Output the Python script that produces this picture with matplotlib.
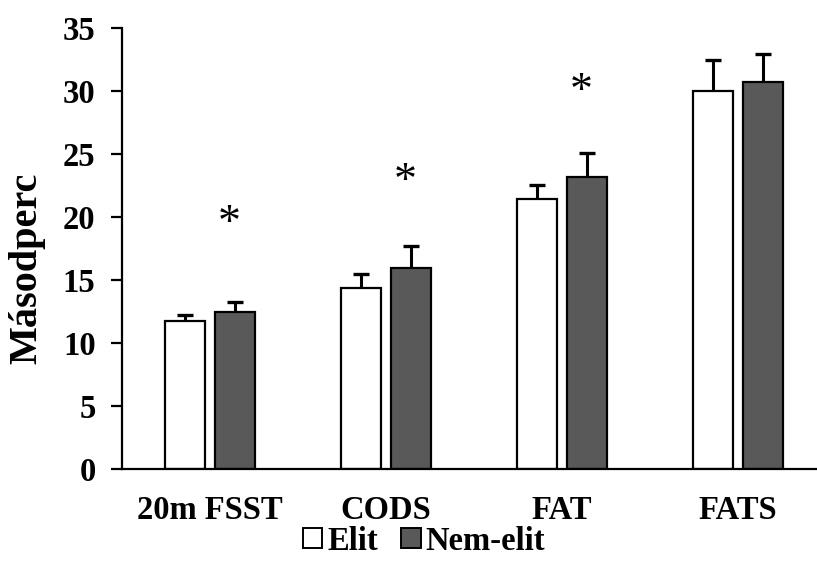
import matplotlib
matplotlib.use("Agg")
import matplotlib.pyplot as plt
import numpy as np
from matplotlib.patches import Patch

categories = ["20m FSST", "CODS", "FAT", "FATS"]
elit_mean = [11.75, 14.35, 21.4, 30.0]
elit_sd = [0.47, 1.15, 1.12, 2.45]
nem_mean = [12.5, 15.95, 23.2, 30.7]
nem_sd = [0.75, 1.75, 1.9, 2.2]
sig_y = [19.4, 22.7, 29.9]
sig_idx = [0, 1, 2]
yticks = [0, 5, 10, 15, 20, 25, 30, 35]

plt.rcParams['font.family'] = ['Liberation Serif', 'DejaVu Serif']
plt.rcParams['font.weight'] = 'bold'

fig = plt.figure(figsize=(8.17, 5.79), dpi=100)
W, H = 817, 579
ax = fig.add_axes([122 / W, (H - 469) / H, (826 - 122) / W, (469 - 28) / H])

x = np.arange(len(categories))
bw = 40 / 176
off = 25 / 176
for xs, m, sd, col in [(x - off, elit_mean, elit_sd, 'white'),
                       (x + off, nem_mean, nem_sd, '#595959')]:
    m = np.asarray(m)
    sd = np.asarray(sd)
    ax.bar(xs, m, bw, color=col, edgecolor='black', linewidth=1.6, zorder=2)
    ax.vlines(xs, m, m + sd, colors='black', linewidth=2.2, zorder=1)
    ax.plot(xs, m + sd, ls='none', marker='_', ms=12, mew=2.4, color='black', zorder=1)

for i, yv in zip(sig_idx, sig_y):
    ax.text(x[i] + 0.108, yv, '*', ha='center', va='center', fontsize=33,
            fontweight='normal')

ax.set_xlim(-0.5, 3.5)
ax.set_ylim(0, 35)
ax.set_yticks(yticks)
ax.set_yticklabels([str(t) for t in yticks], fontsize=23.5, fontweight='bold')
ax.set_xticks(x)
ax.set_xticklabels(categories, fontsize=23.5, fontweight='bold')
ax.tick_params(axis='x', length=0, pad=19)
ax.tick_params(axis='y', length=8, width=1.6, pad=11, direction='out')
for s in ['top', 'right']:
    ax.spines[s].set_visible(False)
for s in ['left', 'bottom']:
    ax.spines[s].set_linewidth(1.6)
    ax.spines[s].set_color('black')
    ax.spines[s].set_zorder(3)

fig.text(27 / W, (H - 268) / H, 'Másodperc', rotation=90, ha='center',
         va='center', fontsize=29, fontweight='bold')

handles = [Patch(facecolor='white', edgecolor='black', linewidth=1.4),
           Patch(facecolor='#595959', edgecolor='black', linewidth=1.4)]
fig.legend(handles, ['Elit', 'Nem-elit'], loc='center', bbox_to_anchor=(424 / W, (H - 541) / H),
           ncol=2, frameon=False, prop={'size': 23.5, 'weight': 'bold'},
           handlelength=0.6, handleheight=0.6, handletextpad=0.15, columnspacing=0.7)

fig.savefig('out.png', dpi=100)
